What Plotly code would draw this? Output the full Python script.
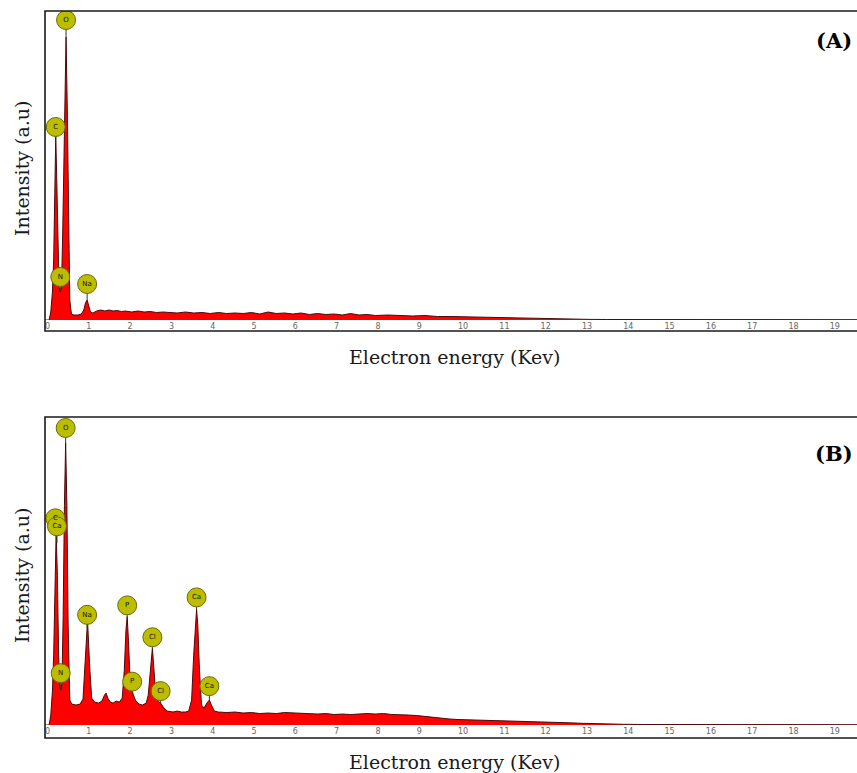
import numpy as np
import plotly.graph_objects as go

# ---------------- data ----------------
# Panel A spectrum: energy (keV) and intensity (a.u.)
energy_a = [0.00, 0.10, 0.14, 0.18, 0.21, 0.24, 0.26, 0.28, 0.31, 0.34, 0.37, 0.40,
            0.43, 0.47, 0.51, 0.54, 0.57, 0.60, 0.64, 0.70, 0.80, 0.88, 0.94, 0.98,
            1.02, 1.06, 1.10, 1.16, 1.25, 1.35, 1.45, 1.55, 1.65, 1.75, 1.85, 1.95,
            2.10, 2.25, 2.40, 2.55, 2.70, 2.85, 3.00, 3.20, 3.40, 3.60, 3.80, 4.00,
            4.20, 4.40, 4.60, 4.80, 5.00, 5.20, 5.40, 5.60, 5.80, 6.00, 6.20, 6.40,
            6.60, 6.80, 7.00, 7.20, 7.40, 7.60, 7.80, 8.00, 8.30, 8.60, 8.90, 9.20,
            9.50, 9.80, 10.1, 10.4, 10.7, 11.0, 11.3, 11.6, 11.9, 12.2, 12.5, 12.8,
            13.2, 13.6, 14.5, 16.0, 18.0, 19.7]
counts_a = [0, 0, 8, 28, 60, 140, 184, 150, 70, 33, 28, 34,
            90, 200, 283, 210, 90, 20, 6, 5, 5, 6, 10, 17,
            20, 15, 8, 7, 9, 10, 9, 10, 9, 9.5, 8.5, 9,
            8, 9, 8, 8.5, 7.5, 8, 7.5, 7, 8, 7, 7.5, 6.5,
            7.5, 6.5, 7, 6.5, 7.5, 6, 8, 6.5, 7, 6, 7, 5.5,
            6.5, 5.5, 6, 5, 6.5, 5, 5.5, 4.5, 5, 4.5, 4, 4.5,
            3.5, 3.5, 3.2, 3.4, 2.8, 2.7, 2.4, 2.2, 1.8, 1.5, 1.1, 0.8,
            0.6, 0.5, 0.4, 0.35, 0.3, 0.3]

# Panel B spectrum
energy_b = [0.00, 0.10, 0.14, 0.18, 0.21, 0.24, 0.27, 0.30, 0.33, 0.36, 0.38, 0.41,
            0.44, 0.47, 0.50, 0.53, 0.56, 0.60, 0.65, 0.75, 0.85, 0.92, 0.97, 1.03,
            1.08, 1.13, 1.20, 1.30, 1.38, 1.44, 1.48, 1.52, 1.58, 1.65, 1.72, 1.80,
            1.87, 1.92, 1.96, 1.99, 2.02, 2.06, 2.10, 2.14, 2.20, 2.28, 2.36, 2.45,
            2.50, 2.55, 2.60, 2.64, 2.68, 2.74, 2.80, 2.88, 2.96, 3.10, 3.20, 3.30,
            3.40, 3.48, 3.55, 3.60, 3.64, 3.67, 3.70, 3.74, 3.79, 3.85, 3.92, 3.98,
            4.03, 4.10, 4.20, 4.40, 4.60, 4.80, 5.00, 5.20, 5.40, 5.60, 5.80, 6.00,
            6.20, 6.40, 6.60, 6.80, 7.00, 7.20, 7.40, 7.60, 7.80, 8.00, 8.20, 8.40,
            8.60, 8.80, 9.00, 9.20, 9.40, 9.60, 9.80, 10.0, 10.3, 10.6, 10.9, 11.2,
            11.5, 11.8, 12.1, 12.4, 12.7, 13.0, 13.3, 13.6, 14.0, 14.5, 16.0, 18.0,
            19.7]
counts_b = [0, 0, 10, 34, 70, 150, 193, 150, 70, 40, 35, 42,
            110, 220, 283, 220, 100, 25, 21, 20, 21, 26, 60, 105,
            60, 27, 23, 22, 24, 30, 32, 27, 23, 22, 24, 23,
            27, 55, 95, 109, 85, 45, 36, 30, 24, 21, 20, 22,
            30, 55, 77, 55, 30, 24, 22, 17, 14, 13, 14, 13,
            13, 14, 25, 70, 105, 116, 100, 55, 20, 17, 22, 25,
            20, 14, 13, 12.5, 13, 12, 12.5, 11.5, 12, 11.5, 12.5, 12,
            11.5, 11.5, 11, 11.5, 10.5, 11, 10.5, 11, 11.5, 11, 11.5, 10.5,
            10.5, 10, 9.5, 8.5, 7.5, 6.5, 6, 5.5, 5.2, 4.8, 4.5, 4.2,
            4, 3.6, 3.2, 2.7, 2.2, 1.7, 1.3, 1.0, 0.7, 0.5, 0.4, 0.35,
            0.3]

# Element labels: name and energy (keV)
labels_a = ["C", "N", "O", "Na"]
label_e_a = [0.26, 0.37, 0.51, 1.02]
labels_b = ["C", "Ca", "N", "O", "Na", "P", "P", "Cl", "Cl", "Ca", "Ca"]
label_e_b = [0.25, 0.29, 0.38, 0.50, 1.02, 1.99, 2.11, 2.60, 2.80, 3.67, 3.98]

x_ticks = list(range(0, 20))

# ---------------- layout / style (pixels) ----------------
W, H = 857, 773
ML = 45
offsets_a = [9, 15, 17, 16]            # circle centre above spectrum (px)
offsets_b = [43, 35, 17, 15, 13, 11, 9, 11, 12, 12, 14]
RED = "#ff0000"
OUTLINE = "#4a0a0a"
BADGE = "#bdbd00"
BADGE_EDGE = "#6b6b00"


def pdom(top_px, bot_px):
    return [1 - bot_px / H, 1 - top_px / H]


panels = [
    dict(x=energy_a, y=counts_a, lab=labels_a, le=label_e_a, off=offsets_a,
         dom=pdom(11, 320), frame=(11, 331), xa="x", ya="y", tag="(A)",
         tag_y=40, ytitle_y=168, xtitle_y=357),
    dict(x=energy_b, y=counts_b, lab=labels_b, le=label_e_b, off=offsets_b,
         dom=pdom(417, 725), frame=(417, 738), xa="x2", ya="y2", tag="(B)",
         tag_y=453, ytitle_y=575, xtitle_y=762),
]

fig = go.Figure()
annotations = []
shapes = []
for p in panels:
    ex = np.array(p["x"], dtype=float)
    cy = np.array(p["y"], dtype=float)
    fig.add_trace(go.Scatter(x=ex, y=cy, mode="lines", fill="tozeroy",
                             fillcolor=RED, line=dict(color=OUTLINE, width=1),
                             xaxis=p["xa"], yaxis=p["ya"], showlegend=False,
                             hoverinfo="skip"))
    # label badges
    le = np.array(p["le"], dtype=float)
    base = np.interp(le, ex, cy)
    cyc = base + np.array(p["off"], dtype=float)
    sx, sy = [], []
    for e, b, c in zip(le, base, cyc):
        sx += [e, e, None]
        sy += [max(b, c - 17), c, None]
    fig.add_trace(go.Scatter(x=sx, y=sy, mode="lines",
                             line=dict(color="#333333", width=1),
                             xaxis=p["xa"], yaxis=p["ya"], showlegend=False,
                             hoverinfo="skip"))
    fig.add_trace(go.Scatter(x=le, y=cyc, mode="markers+text", text=p["lab"],
                             textposition="middle center",
                             textfont=dict(family="DejaVu Sans", size=7, color="#111"),
                             marker=dict(size=19, color=BADGE,
                                         line=dict(color=BADGE_EDGE, width=1)),
                             xaxis=p["xa"], yaxis=p["ya"], showlegend=False,
                             hoverinfo="skip"))
    # frame box (includes the tick-label strip)
    f_top, f_bot = p["frame"]
    shapes.append(dict(type="rect", xref="paper", yref="paper", x0=0, x1=1.05,
                       y0=1 - f_bot / H, y1=1 - f_top / H,
                       line=dict(color="#1a1a1a", width=1.6), layer="above"))
    annotations.append(dict(text="<b>" + p["tag"] + "</b>", xref="paper", yref="paper",
                            x=(833.5 - ML) / (W - ML), y=1 - p["tag_y"] / H,
                            showarrow=False, xanchor="center", yanchor="middle",
                            font=dict(family="DejaVu Serif", size=21, color="#000")))
    annotations.append(dict(text="Intensity (a.u)", xref="paper", yref="paper",
                            x=(22 - ML) / (W - ML), y=1 - p["ytitle_y"] / H,
                            textangle=-90, showarrow=False, xanchor="center",
                            yanchor="middle",
                            font=dict(family="DejaVu Serif", size=19, color="#1a1a1a")))
    annotations.append(dict(text="Electron energy (Kev)", xref="paper", yref="paper",
                            x=(455 - ML) / (W - ML), y=1 - p["xtitle_y"] / H,
                            showarrow=False, xanchor="center", yanchor="middle",
                            font=dict(family="DejaVu Serif", size=19, color="#1a1a1a")))

xcommon = dict(range=[0, (W - ML) / 41.3], showgrid=False, zeroline=False,
               showline=False, ticks="", tickvals=x_ticks,
               ticktext=[str(t) for t in x_ticks],
               ticklabelposition="outside right",
               tickfont=dict(family="DejaVu Sans", size=8, color="#666666"),
               fixedrange=True)
ycommon = dict(range=[0, 309], showgrid=False, zeroline=False, showline=False,
               showticklabels=False, ticks="", fixedrange=True)

fig.update_layout(
    width=W, height=H,
    margin=dict(l=ML, r=0, t=0, b=0),
    paper_bgcolor="white", plot_bgcolor="white",
    xaxis=dict(**xcommon, anchor="y", domain=[0, 1]),
    yaxis=dict(**ycommon, anchor="x", domain=panels[0]["dom"]),
    xaxis2=dict(**xcommon, anchor="y2", domain=[0, 1]),
    yaxis2=dict(**ycommon, anchor="x2", domain=panels[1]["dom"]),
    shapes=shapes, annotations=annotations, showlegend=False,
)

fig.write_html("out.html")
